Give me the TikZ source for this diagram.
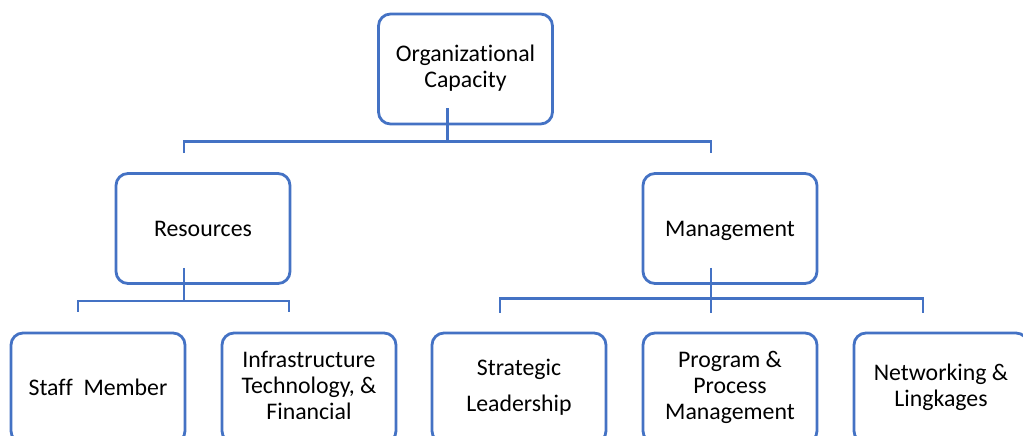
\documentclass[tikz,border=0pt]{standalone}
\usepackage{fontspec}
\setmainfont[Ligatures={NoCommon}]{Carlito}
\definecolor{boxblue}{HTML}{4472C4}
\newcommand\mystrut{\rule[-5pt]{0pt}{25pt}}
\begin{document}
\begin{tikzpicture}[x=1pt,y=-1pt,
  box/.style={draw=boxblue,line width=2.8pt,fill=white,rounded corners=12pt,
    minimum width=174pt,minimum height=110pt,align=center,inner sep=0pt,
    font=\fontsize{23.8pt}{26pt}\selectfont,text=black,
    execute at begin node=\mystrut,execute at end node=\mystrut},
  conn/.style={draw=boxblue,line width=2.8pt}]
\useasboundingbox (0,0) rectangle (1023,436);
\clip (0,0) rectangle (1023,436);
\node[box] (root) at (465.5,69) {Organizational\\Capacity};
\node[box] (res) at (203,228.5) {Resources};
\node[box] (man) at (730,228.5) {Management};
\node[box] (staff) at (98,388) {Staff\ \ Member};
\node[box] (infra) at (309,388) {Infrastructure\\Technology, \&\\Financial};
\node[box] (strat) at (519,388) {Strategic\\[10pt]Leadership};
\node[box] (prog) at (730,388) {Program \&\\Process\\Management};
\node[box] (net) at (941,388) {Networking \&\\Lingkages};
% level 1
\coordinate (r0) at ([xshift=-18pt,yshift=17pt]root.south);
\coordinate (j1) at ([yshift=-33pt]r0);
\coordinate (r1) at ([xshift=-19pt,yshift=19pt]res.north);
\coordinate (m1) at ([xshift=-19pt,yshift=19pt]man.north);
\draw[conn] (r0) -- (j1);
\draw[conn] (r1) |- (j1) -| (m1);
% level 2 resources
\coordinate (r2) at ([xshift=-19pt,yshift=17pt]res.south);
\coordinate (j2) at ([yshift=-33pt]r2);
\coordinate (s1) at ([xshift=-20pt,yshift=20pt]staff.north);
\coordinate (i1) at ([xshift=-20pt,yshift=20pt]infra.north);
\draw[conn] (r2) -- (j2);
\draw[conn] (s1) |- (j2) -| (i1);
% level 2 management
\coordinate (m2) at ([xshift=-19pt,yshift=17pt]man.south);
\coordinate (p1) at ([xshift=-19pt,yshift=19pt]prog.north);
\coordinate (j3) at ([yshift=14pt]p1);
\coordinate (st1) at ([xshift=-19pt,yshift=19pt]strat.north);
\coordinate (n1) at ([xshift=-18pt,yshift=19pt]net.north);
\draw[conn] (m2) -- (p1);
\draw[conn] (st1) |- (j3) -| (n1);
\end{tikzpicture}
\end{document}
